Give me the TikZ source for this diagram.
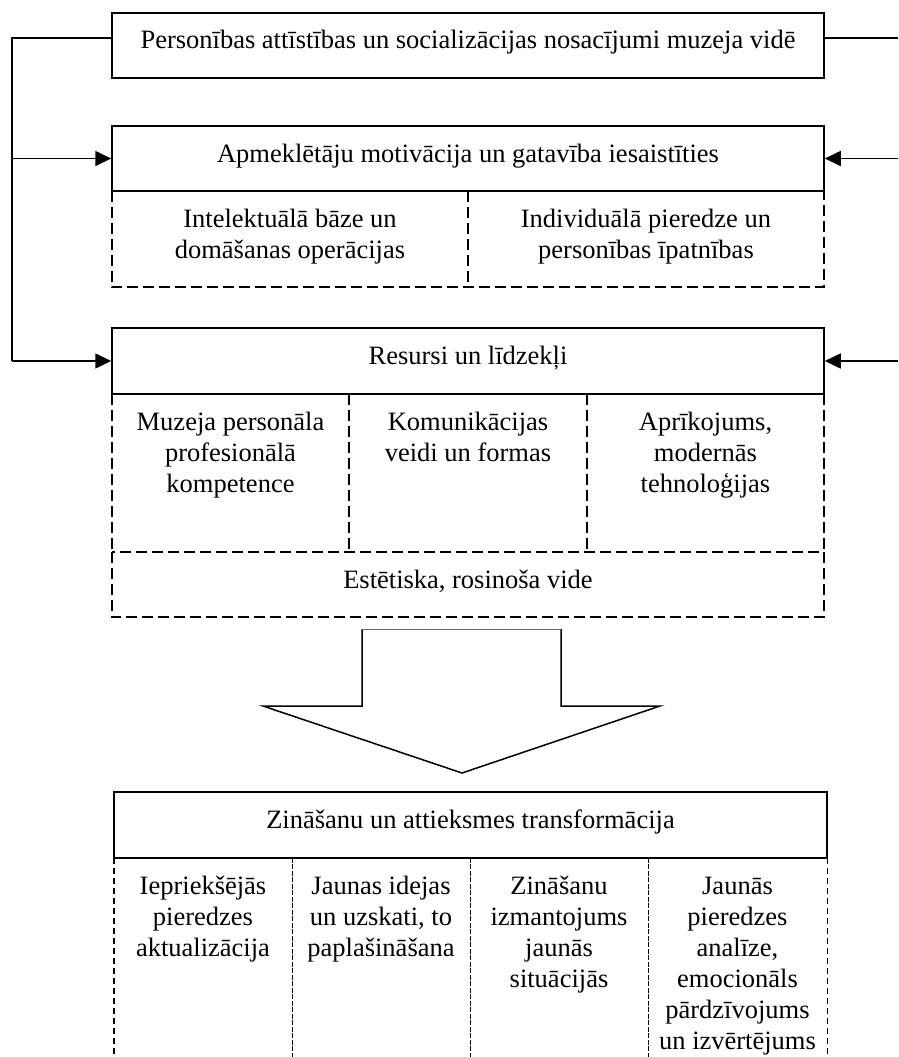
\documentclass[tikz,border=0pt]{standalone}
\usepackage{fontspec}
\setmainfont{Liberation Serif}
\usetikzlibrary{arrows.meta}

% text set from the top of a box of given width and height
\newcommand{\boxtext}[3]{\parbox[c][#2][t]{#1}{\centering\rule{0pt}{36pt}#3}}

\tikzset{
    every node/.style={font=\fontsize{26.5}{31}\selectfont},
    mainbox/.style={draw,line width=1.5pt,inner sep=0pt},
    cell/.style={inner sep=0pt},
    dashline/.style={line width=1.5pt,dash pattern=on 11pt off 5pt},
    shortline/.style={line width=1.4pt,dash pattern=on 6pt off 4pt},
    fineline/.style={line width=1.2pt,dash pattern=on 5pt off 1.5pt},
    link/.style={line width=1.6pt},
    arr/.style={link,-{Triangle[length=16pt,width=15pt]}}
}

\begin{document}
\begin{tikzpicture}[x=1pt,y=-1pt]
    \useasboundingbox (0,0) rectangle (898,1057);

    % upper part
    \node[cell] (intel) at (290,239) {\boxtext{356pt}{96pt}{Intelektuālā bāze un\\domāšanas operācijas}};
    \node[cell] (indiv) at (646,239) {\boxtext{356pt}{96pt}{Individuālā pieredze un\\personības īpatnības}};
    \node[cell] (staff) at (230.5,473) {\boxtext{237pt}{158pt}{Muzeja personāla\\profesionālā\\kompetence}};
    \node[cell] (comm) at (468,473) {\boxtext{238pt}{158pt}{Komunikācijas\\veidi un formas}};
    \node[cell] (equip) at (705.5,473) {\boxtext{237pt}{158pt}{Aprīkojums,\\modernās\\tehnoloģijas}};
    \node[cell] (estet) at (468,584.5) {\boxtext{712pt}{65pt}{Estētiska, rosinoša vide}};
    \draw[dashline] (intel.north west) -- (intel.south west) -- (indiv.south east) -- (indiv.north east);
    \draw[dashline] (intel.north east) -- (intel.south east);
    \draw[dashline] (staff.north west) -- (staff.south west);
    \draw[dashline] (staff.north east) -- (staff.south east);
    \draw[dashline] (comm.north east) -- (comm.south east);
    \draw[dashline] (equip.north east) -- (equip.south east);
    \draw[dashline] (estet.north west) rectangle (estet.south east);
    \node[mainbox] (pers) at (468,45.5) {\boxtext{712pt}{65pt}{Personības attīstības un socializācijas nosacījumi muzeja vidē}};
    \node[mainbox] (motiv) at (468,158.5) {\boxtext{712pt}{65pt}{Apmeklētāju motivācija un gatavība iesaistīties}};
    \node[mainbox] (resurs) at (468,361) {\boxtext{712pt}{66pt}{Resursi un līdzekļi}};

    % lower part
    \node[cell] (prior) at (203,968) {\boxtext{178pt}{220pt}{Iepriekšējās\\pieredzes\\aktualizācija}};
    \node[cell] (ideas) at (381,968) {\boxtext{178pt}{220pt}{Jaunas idejas\\un uzskati, to\\paplašināšana}};
    \node[cell] (apply) at (559,968) {\boxtext{178pt}{220pt}{Zināšanu\\izmantojums\\jaunās\\situācijās}};
    \node[cell] (reflect) at (737.5,968) {\boxtext{179pt}{220pt}{Jaunās\\pieredzes\\analīze,\\emocionāls\\pārdzīvojums\\un izvērtējums}};
    \draw[shortline] (prior.north west) -- (prior.south west);
    \draw[fineline] (prior.north east) -- (prior.south east);
    \draw[fineline] (ideas.north east) -- (ideas.south east);
    \draw[fineline] (apply.north east) -- (apply.south east);
    \draw[shortline] (reflect.north east) -- (reflect.south east);
    \node[mainbox] (trans) at (470.5,825) {\boxtext{713pt}{66pt}{Zināšanu un attieksmes transformācija}};

    % big arrow
    \draw[line width=1.5pt,line join=miter] (362,629) -- (362,706) -- (263,706) -- (462,773) -- (660,706) -- (561,706) -- (561,629);
    \draw[line width=0.8pt,black!60] (362,629) -- (561,629);

    % side lines
    \coordinate (ltop) at (12,38);
    \coordinate (lbot) at (12,361);
    \coordinate (rtop) at (898,38);
    \coordinate (rmid) at (898,158.5);
    \coordinate (rbot) at (898,361);
    \draw[link] ([yshift=7.5pt]pers.west) -- (ltop) -- (lbot);
    \draw[arr] (ltop |- motiv.west) -- (motiv.west);
    \draw[arr] (lbot) -- (resurs.west);
    \draw[link] ([yshift=7.5pt]pers.east) -- (rtop);
    \draw[arr] (rmid) -- (motiv.east);
    \draw[arr] (rbot) -- (resurs.east);
\end{tikzpicture}
\end{document}
